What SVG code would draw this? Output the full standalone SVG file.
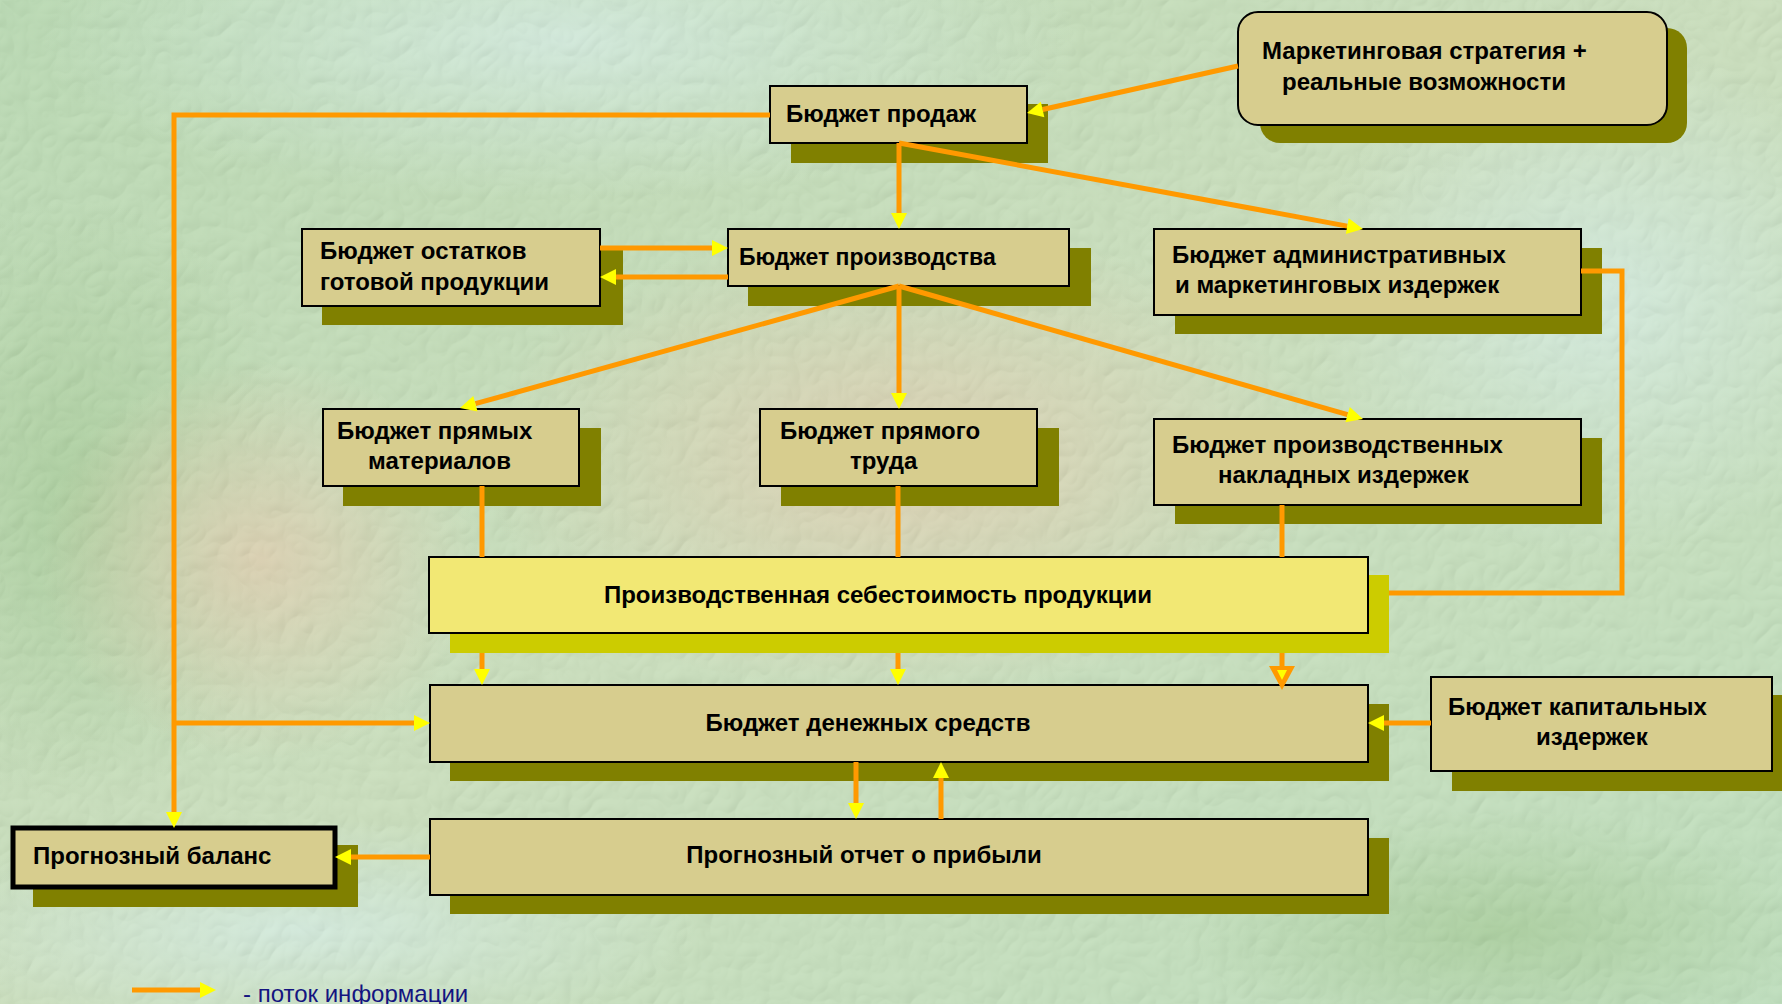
<svg xmlns="http://www.w3.org/2000/svg" width="1782" height="1004" viewBox="0 0 1782 1004">
<defs>
<style>
.box{fill:#D7CD8E;stroke:#000;stroke-width:2}
.sh{fill:#808000}
.ysh{fill:#CCCC00}
.ybox{fill:#F2E874;stroke:#000;stroke-width:2}
.t{font-family:"Liberation Sans",Arial,sans-serif;font-weight:bold;font-size:24px;fill:#000}
.c{stroke:#FF9900;stroke-width:5;fill:none}
.leg{font-family:"Liberation Sans",Arial,sans-serif;font-size:24px;fill:#141480}
</style>
<marker id="ah" markerUnits="userSpaceOnUse" markerWidth="16" markerHeight="16" refX="0" refY="8" orient="auto" overflow="visible">
<path d="M0,0 L16,8 L0,16 z" fill="#FFFF00"/>
</marker>
<marker id="ah2" markerUnits="userSpaceOnUse" markerWidth="24" markerHeight="26" refX="0" refY="13" orient="auto" overflow="visible">
<path d="M0,0 L24,13 L0,26 z" fill="#FF9900"/>
<path d="M4,8 L14,13 L4,18 z" fill="#FFFF00"/>
</marker>
<linearGradient id="bg0" x1="0" y1="0" x2="1" y2="1">
<stop offset="0" stop-color="#AED4A6"/>
<stop offset="0.5" stop-color="#C2DAB2"/>
<stop offset="1" stop-color="#B4DAB2"/>
</linearGradient>
<radialGradient id="g1" cx="0.5" cy="0.5" r="0.5">
<stop offset="0" stop-color="#D9C8A4" stop-opacity="0.9"/>
<stop offset="1" stop-color="#D9C8A4" stop-opacity="0"/>
</radialGradient>
<radialGradient id="g2" cx="0.5" cy="0.5" r="0.5">
<stop offset="0" stop-color="#CDE8DA" stop-opacity="0.9"/>
<stop offset="1" stop-color="#CDE8DA" stop-opacity="0"/>
</radialGradient>
<radialGradient id="g3" cx="0.5" cy="0.5" r="0.5">
<stop offset="0" stop-color="#98C488" stop-opacity="0.8"/>
<stop offset="1" stop-color="#98C488" stop-opacity="0"/>
</radialGradient>
<filter id="tex" x="0" y="0" width="100%" height="100%">
<feTurbulence type="turbulence" baseFrequency="0.035" numOctaves="2" seed="7" result="n"/>
<feDiffuseLighting in="n" surfaceScale="2.5" lighting-color="#ffffff" result="l">
<feDistantLight azimuth="235" elevation="55"/>
</feDiffuseLighting>
</filter>
</defs>

<g id="background">
<rect x="0" y="0" width="1782" height="1004" fill="url(#bg0)"/>
<ellipse cx="560" cy="40" rx="520" ry="160" fill="url(#g2)"/>
<ellipse cx="1600" cy="300" rx="300" ry="260" fill="url(#g2)"/>
<ellipse cx="80" cy="500" rx="220" ry="300" fill="url(#g3)"/>
<ellipse cx="260" cy="560" rx="220" ry="200" fill="url(#g1)"/>
<ellipse cx="900" cy="460" rx="420" ry="240" fill="url(#g1)"/>
<ellipse cx="1500" cy="930" rx="320" ry="120" fill="url(#g3)"/>
<ellipse cx="300" cy="930" rx="400" ry="110" fill="url(#g2)"/>
<rect x="0" y="0" width="1782" height="1004" filter="url(#tex)" opacity="0.2"/>
</g>

<g id="node-marketing">
<rect class="sh" x="1260" y="28" width="427" height="115" rx="20"/>
<rect class="box" x="1238" y="12" width="429" height="113" rx="20"/>
<text class="t" x="1262" y="59">Маркетинговая стратегия +</text>
<text class="t" x="1282" y="90">реальные возможности</text>
</g>
<g id="node-sales">
<rect class="sh" x="791" y="104" width="257" height="59"/>
<rect class="box" x="770" y="86" width="257" height="57"/>
<text class="t" x="786" y="122">Бюджет продаж</text>
</g>
<g id="node-stock">
<rect class="sh" x="322" y="248" width="301" height="77"/>
<rect class="box" x="302" y="229" width="298" height="77"/>
<text class="t" x="320" y="259">Бюджет остатков</text>
<text class="t" x="320" y="290">готовой продукции</text>
</g>
<g id="node-production">
<rect class="sh" x="748" y="248" width="343" height="58"/>
<rect class="box" x="728" y="229" width="341" height="57"/>
<text class="t" x="739" y="265" style="font-size:23px">Бюджет производства</text>
</g>
<g id="node-admin">
<rect class="sh" x="1175" y="248" width="427" height="86"/>
<rect class="box" x="1154" y="229" width="427" height="86"/>
<text class="t" x="1172" y="263">Бюджет административных</text>
<text class="t" x="1175" y="293">и маркетинговых издержек</text>
</g>
<g id="node-materials">
<rect class="sh" x="343" y="428" width="258" height="78"/>
<rect class="box" x="323" y="409" width="256" height="77"/>
<text class="t" x="337" y="439">Бюджет прямых</text>
<text class="t" x="368" y="469">материалов</text>
</g>
<g id="node-labor">
<rect class="sh" x="781" y="428" width="278" height="78"/>
<rect class="box" x="760" y="409" width="277" height="77"/>
<text class="t" x="780" y="439">Бюджет прямого</text>
<text class="t" x="850" y="469">труда</text>
</g>
<g id="node-overhead">
<rect class="sh" x="1175" y="438" width="427" height="86"/>
<rect class="box" x="1154" y="419" width="427" height="86"/>
<text class="t" x="1172" y="453">Бюджет производственных</text>
<text class="t" x="1218" y="483">накладных издержек</text>
</g>
<g id="node-cost">
<rect class="ysh" x="450" y="575" width="939" height="78"/>
<rect class="ybox" x="429" y="557" width="939" height="76"/>
<text class="t" x="878" y="603" text-anchor="middle">Производственная себестоимость продукции</text>
</g>
<g id="node-cash">
<rect class="sh" x="450" y="704" width="939" height="77"/>
<rect class="box" x="430" y="685" width="938" height="77"/>
<text class="t" x="868" y="731" text-anchor="middle">Бюджет денежных средств</text>
</g>
<g id="node-capital">
<rect class="sh" x="1452" y="695" width="340" height="96"/>
<rect class="box" x="1431" y="677" width="341" height="94"/>
<text class="t" x="1448" y="715">Бюджет капитальных</text>
<text class="t" x="1536" y="745">издержек</text>
</g>
<g id="node-profit">
<rect class="sh" x="450" y="838" width="939" height="76"/>
<rect class="box" x="430" y="819" width="938" height="76"/>
<text class="t" x="864" y="863" text-anchor="middle">Прогнозный отчет о прибыли</text>
</g>
<g id="node-balance">
<rect class="sh" x="33" y="845" width="325" height="62"/>
<rect class="box" x="13" y="828" width="322" height="59" style="stroke-width:5"/>
<text class="t" x="33" y="864">Прогнозный баланс</text>
</g>

<g id="connectors">
<polyline class="c" points="770,115 174,115 174,812" marker-end="url(#ah)"/>
<line class="c" x1="174" y1="723" x2="414" y2="723" marker-end="url(#ah)"/>
<line class="c" x1="1238" y1="66" x2="1042.6" y2="109.5" marker-end="url(#ah)"/>
<line class="c" x1="899" y1="143" x2="899" y2="213" marker-end="url(#ah)"/>
<line class="c" x1="899" y1="143" x2="1347.3" y2="226.1" marker-end="url(#ah)"/>
<line class="c" x1="600" y1="248" x2="712" y2="248" marker-end="url(#ah)"/>
<line class="c" x1="728" y1="277" x2="616" y2="277" marker-end="url(#ah)"/>
<line class="c" x1="899" y1="286" x2="475.4" y2="403.7" marker-end="url(#ah)"/>
<line class="c" x1="899" y1="286" x2="899" y2="393" marker-end="url(#ah)"/>
<line class="c" x1="899" y1="286" x2="1347.6" y2="414.6" marker-end="url(#ah)"/>
<line class="c" x1="482" y1="486" x2="482" y2="557"/>
<line class="c" x1="482" y1="653" x2="482" y2="669" marker-end="url(#ah)"/>
<line class="c" x1="898" y1="486" x2="898" y2="557"/>
<line class="c" x1="898" y1="653" x2="898" y2="669" marker-end="url(#ah)"/>
<line class="c" x1="1282" y1="505" x2="1282" y2="557"/>
<line class="c" x1="1282" y1="653" x2="1282" y2="666" marker-end="url(#ah2)"/>
<polyline class="c" points="1581,271 1622,271 1622,593 1389,593"/>
<line class="c" x1="1431" y1="723" x2="1384" y2="723" marker-end="url(#ah)"/>
<line class="c" x1="856" y1="762" x2="856" y2="803" marker-end="url(#ah)"/>
<line class="c" x1="941" y1="819" x2="941" y2="778" marker-end="url(#ah)"/>
<line class="c" x1="430" y1="857" x2="351" y2="857" marker-end="url(#ah)"/>
</g>

<g id="legend">
<line class="c" x1="132" y1="990" x2="200" y2="990" marker-end="url(#ah)"/>
<text class="leg" x="243" y="1002">- поток информации</text>
</g>
</svg>
